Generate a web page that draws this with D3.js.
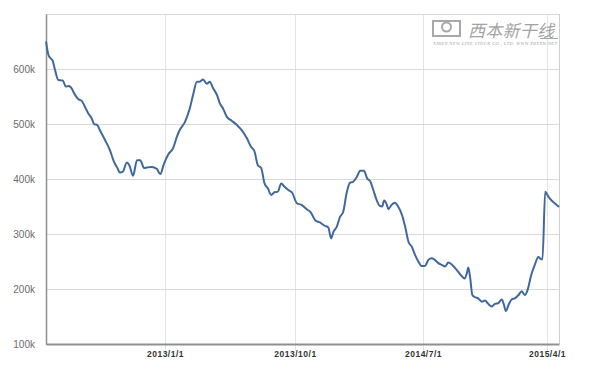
<!DOCTYPE html>
<html>
<head>
<meta charset="utf-8">
<script src="https://cdn.jsdelivr.net/npm/d3@7"></script>
<style>
  body { margin: 0; background: #fff; }
  svg { display: block; }
</style>
</head>
<body>
<svg id="chart" width="594" height="381"></svg>
<script>
// weekly-ish readings, in thousands
const dates = [
  "2012-04-26","2012-05-01","2012-05-05","2012-05-10","2012-05-15","2012-05-22","2012-05-31","2012-06-07","2012-06-12","2012-06-17",
  "2012-06-26","2012-07-03","2012-07-10","2012-07-17","2012-07-24","2012-07-31","2012-08-05","2012-08-12","2012-08-17","2012-08-28",
  "2012-09-07","2012-09-16","2012-09-23","2012-09-28","2012-10-04","2012-10-13","2012-10-18","2012-10-26","2012-11-03","2012-11-10",
  "2012-11-18","2012-11-24","2012-12-04","2012-12-15","2012-12-22","2012-12-30","2013-01-08","2013-01-18","2013-01-26","2013-02-01",
  "2013-02-12","2013-02-22","2013-03-01","2013-03-09","2013-03-15","2013-03-22","2013-03-30","2013-04-05","2013-04-12","2013-04-20",
  "2013-04-26","2013-05-03","2013-05-11","2013-05-21","2013-06-01","2013-06-11","2013-06-22","2013-07-01","2013-07-08","2013-07-15",
  "2013-07-22","2013-07-29","2013-08-05","2013-08-12","2013-08-19","2013-08-26","2013-09-02","2013-09-09","2013-09-17","2013-09-25",
  "2013-10-05","2013-10-15","2013-10-26","2013-11-04","2013-11-13","2013-11-23","2013-12-03","2013-12-11","2013-12-17","2013-12-22",
  "2013-12-29","2014-01-05","2014-01-12","2014-01-19","2014-01-26","2014-02-02","2014-02-10","2014-02-17","2014-02-25","2014-03-04",
  "2014-03-11","2014-03-17","2014-03-24","2014-03-31","2014-04-05","2014-04-09","2014-04-15","2014-04-18","2014-04-25","2014-05-02",
  "2014-05-09","2014-05-17","2014-05-24","2014-05-31","2014-06-07","2014-06-14","2014-06-21","2014-06-28","2014-07-05","2014-07-13",
  "2014-07-20","2014-07-27","2014-08-04","2014-08-11","2014-08-19","2014-08-26","2014-09-02","2014-09-10","2014-09-17","2014-09-24",
  "2014-10-01","2014-10-06","2014-10-09","2014-10-13","2014-10-18","2014-10-24","2014-10-31","2014-11-08","2014-11-15","2014-11-22",
  "2014-11-30","2014-12-07","2014-12-14","2014-12-22","2014-12-27","2014-12-31","2015-01-06","2015-01-13","2015-01-20","2015-01-28",
  "2015-02-04","2015-02-11","2015-02-17","2015-02-25","2015-03-05","2015-03-13","2015-03-19","2015-03-22","2015-03-28","2015-04-04",
  "2015-04-11","2015-04-19","2015-04-27"
];
const values = [
  650,626,620,615,598,580,579,568,569,567,
  553,545,542,531,519,510,500,498,489,471,
  453,431,420,412,413,430,425,406,434,434,
  420,421,422,418,409,428,445,456,477,489,
  504,528,553,577,577,581,573,577,565,553,
  538,528,513,506,498,489,474,458,450,425,
  420,392,383,371,376,377,392,386,380,375,
  356,353,345,339,325,321,315,312,292,304,
  313,331,341,374,393,395,404,415,415,401,
  395,380,362,351,350,361,353,345,353,357,
  350,335,313,286,277,262,250,242,242,253,
  256,253,247,244,241,248,245,238,231,224,
  219,229,239,222,189,185,183,177,179,173,
  168,173,174,181,171,160,171,181,183,189,
  196,189,198,225,244,258,254,254,377,368,
  361,355,349
];
const yTicks = [100, 200, 300, 400, 500, 600];
const xTicks = ["2013-01-01", "2013-10-01", "2014-07-01", "2015-04-01"];

const parseDate = d3.timeParse("%Y-%m-%d");
const data = dates.map((d, i) => ({date: parseDate(d), value: values[i]}));

const svg = d3.select("#chart");
const plotLeft = 46, plotRight = 559, plotTop = 14, plotBottom = 344;

// the axis is not evenly spaced in calendar time, so anchor it on the labelled dates
const xScale = d3.scaleTime()
  .domain([parseDate("2012-04-26")].concat(xTicks.map(parseDate), [parseDate("2015-04-27")]))
  .range([plotLeft, 165, 295, 423, 547, plotRight]);
const yScale = d3.scaleLinear()
  .domain([100, 700])
  .range([plotBottom, plotTop]);

// vertical grid (runs a little below the axis, like tick marks)
svg.append("g")
  .selectAll("line")
  .data(xTicks)
  .enter()
  .append("line")
  .attr("x1", d => Math.round(xScale(parseDate(d))) + 0.5)
  .attr("x2", d => Math.round(xScale(parseDate(d))) + 0.5)
  .attr("y1", plotTop)
  .attr("y2", plotBottom + 7)
  .style("stroke", "#e2e4ea")
  .style("stroke-width", 1);

// horizontal grid
svg.append("g")
  .selectAll("line")
  .data(yTicks.concat([700]))
  .enter()
  .append("line")
  .attr("x1", plotLeft)
  .attr("x2", plotRight)
  .attr("y1", d => Math.round(yScale(d)) + 0.5)
  .attr("y2", d => Math.round(yScale(d)) + 0.5)
  .style("stroke", "#d9d9d9")
  .style("stroke-width", 1);

// right border
svg.append("line")
  .attr("x1", plotRight + 0.5).attr("x2", plotRight + 0.5)
  .attr("y1", plotTop).attr("y2", plotBottom)
  .style("stroke", "#d0d0d0");

// y axis
const yAxis = d3.axisLeft(yScale)
  .tickValues(yTicks)
  .tickSize(0)
  .tickPadding(11)
  .tickFormat(d => d + "k");
const gy = svg.append("g")
  .attr("transform", "translate(" + plotLeft + ",0)")
  .call(yAxis);
gy.select(".domain").style("stroke", "#8f8f8f").style("stroke-width", 1.5);
gy.selectAll("text")
  .style("font-family", "Liberation Sans, Arial, sans-serif")
  .style("font-size", "10px")
  .style("fill", "#6a6a6a");

// x axis
const xAxis = d3.axisBottom(xScale)
  .tickValues(xTicks.map(parseDate))
  .tickSize(0)
  .tickPadding(7)
  .tickFormat(d3.timeFormat("%Y/%-m/%-d"));
const gx = svg.append("g")
  .attr("transform", "translate(0," + plotBottom + ")")
  .call(xAxis);
gx.select(".domain").style("stroke", "#8f8f8f").style("stroke-width", 2);
gx.selectAll("text")
  .style("font-family", "Liberation Sans, Arial, sans-serif")
  .style("font-size", "8.5px")
  .style("font-weight", "bold")
  .style("letter-spacing", "0.5px")
  .style("fill", "#333");

// watermark
const wm = svg.append("g").style("fill", "#a3a3a3");
wm.append("rect")
  .attr("x", 433).attr("y", 21).attr("width", 27).attr("height", 15)
  .style("fill", "none").style("stroke", "#a8a8a8").style("stroke-width", 2);
wm.append("circle")
  .attr("cx", 446.5).attr("cy", 27).attr("r", 4.5)
  .style("fill", "none").style("stroke", "#a8a8a8").style("stroke-width", 2);
wm.append("text")
  .attr("x", 468).attr("y", 37)
  .attr("textLength", 86)
  .style("font-family", "Noto Sans CJK SC")
  .style("font-size", "17px")
  .style("font-style", "italic")
  .text("西本新干线");
wm.append("line")
  .attr("x1", 540).attr("x2", 558).attr("y1", 38.5).attr("y2", 38.5)
  .style("stroke", "#a8a8a8");
wm.append("text")
  .attr("x", 433).attr("y", 45)
  .attr("textLength", 124)
  .style("font-family", "Liberation Serif, serif")
  .style("font-size", "4.5px")
  .style("font-style", "italic")
  .text("XIBEN NEW LINE STOCK CO., LTD.   WWW.XBXXW.NET");

// series
const line = d3.line()
  .x(d => xScale(d.date))
  .y(d => yScale(d.value))
  .curve(d3.curveMonotoneX);

svg.append("path")
  .datum(data)
  .attr("d", line)
  .style("fill", "none")
  .style("stroke", "#40689c")
  .style("stroke-width", 2)
  .style("stroke-linejoin", "round");
</script>
</body>
</html>
